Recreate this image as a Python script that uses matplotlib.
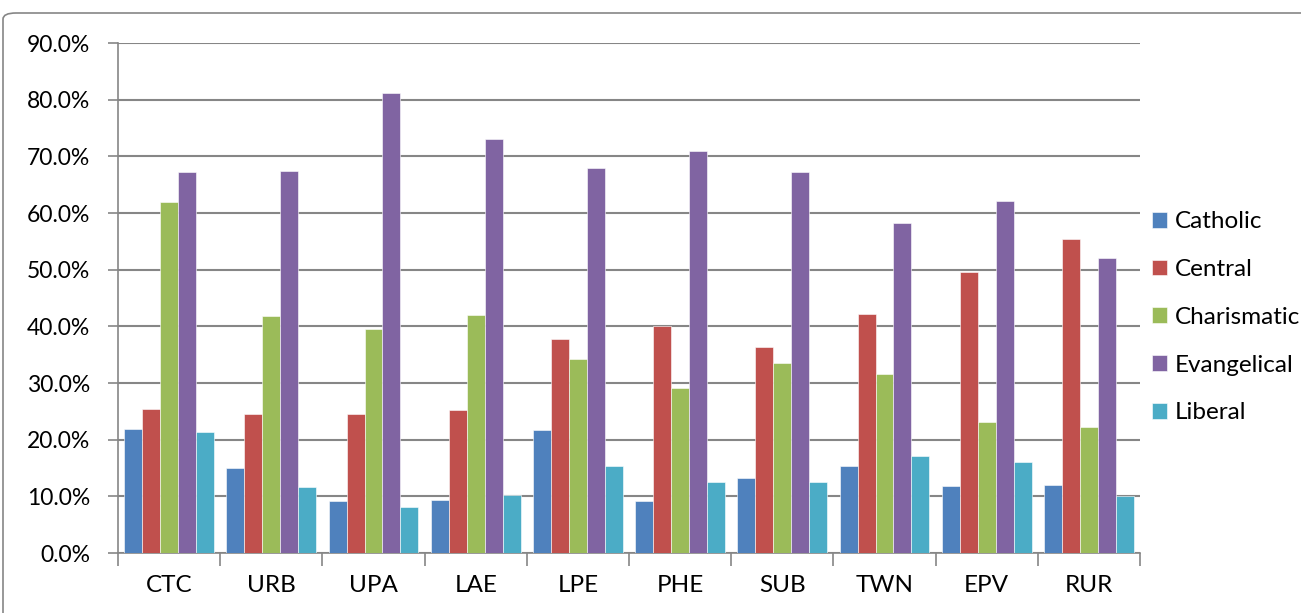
import numpy as np
import matplotlib.pyplot as plt
from matplotlib.patches import FancyBboxPatch
from matplotlib.ticker import PercentFormatter

# church traditions by area type (share of respondents, %)
areas = ["CTC", "URB", "UPA", "LAE", "LPE", "PHE", "SUB", "TWN", "EPV", "RUR"]
catholic = [21.9, 15.0, 9.1, 9.3, 21.7, 9.1, 13.2, 15.4, 11.8, 12.0]
central = [25.4, 24.6, 24.6, 25.2, 37.8, 40.1, 36.4, 42.1, 49.6, 55.5]
charismatic = [61.9, 41.8, 39.6, 42.0, 34.2, 29.1, 33.6, 31.6, 23.1, 22.3]
evangelical = [67.3, 67.4, 81.2, 73.1, 67.9, 70.9, 67.3, 58.3, 62.2, 52.0]
liberal = [21.4, 11.6, 8.1, 10.3, 15.3, 12.5, 12.5, 17.2, 16.0, 10.0]

series = [("Catholic", catholic, "#4F81BD"),
          ("Central", central, "#C0504D"),
          ("Charismatic", charismatic, "#9BBB59"),
          ("Evangelical", evangelical, "#8064A2"),
          ("Liberal", liberal, "#4BACC6")]

plt.rcParams['font.family'] = ['Lato', 'DejaVu Sans']
fs = 17.5

fig = plt.figure(figsize=(13.01, 6.13), dpi=100)
ax = fig.add_axes([118 / 1301, 1 - 553 / 613, (1140 - 118) / 1301, (553 - 43) / 613])

# chart area frame
fig.patches.append(FancyBboxPatch((3 / 1301, -0.05), 1.05, 1 - 13 / 613 + 0.05,
                                  boxstyle="round,pad=0,rounding_size=0.01",
                                  transform=fig.transFigure, fill=False,
                                  edgecolor="#868686", linewidth=1.2, zorder=0))

x = np.arange(len(areas))
bw = 0.176
for i, (name, vals, col) in enumerate(series):
    ax.bar(x + (i - 2) * bw, vals, width=bw, color=col, label=name,
           edgecolor="white", linewidth=0.4, zorder=3)

ax.set_xlim(-0.5, len(areas) - 0.5)
ax.set_ylim(0, 90)
ax.set_yticks(np.arange(0, 91, 10))
ax.yaxis.set_major_formatter(PercentFormatter(decimals=1))
ax.yaxis.grid(True, color="#868686", linewidth=1.5, zorder=0)

ax.set_xticks(x)
ax.set_xticklabels(areas)
ax.set_xticks(np.arange(-0.5, len(areas), 1), minor=True)
ax.tick_params(axis="x", which="major", length=0, pad=16, labelsize=fs)
ax.tick_params(axis="x", which="minor", length=9, width=1.2, color="#868686", direction="out")
ax.tick_params(axis="y", length=7, width=1.2, color="#868686", labelsize=16.5, pad=13)

for side in ["top", "right"]:
    ax.spines[side].set_visible(False)
for side in ["left", "bottom"]:
    ax.spines[side].set_color("#868686")
    ax.spines[side].set_linewidth(1.2)

ax.legend(loc="center left", bbox_to_anchor=(1.0, 0.462), frameon=False,
          fontsize=fs, handlelength=0.62, handleheight=0.62, handletextpad=0.33,
          labelspacing=1.1, borderaxespad=0.1, borderpad=0.4)

fig.savefig("out.png", dpi=100)
